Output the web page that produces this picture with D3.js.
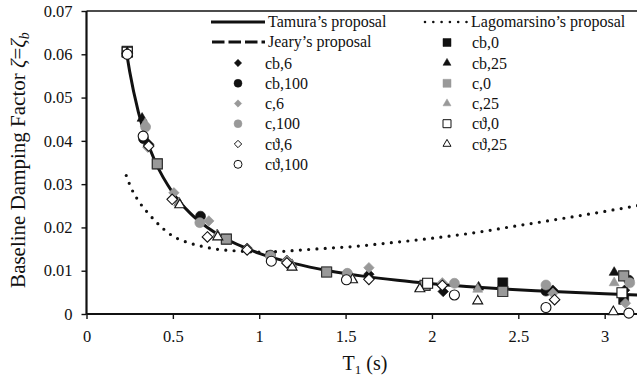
<!DOCTYPE html>
<html>
<head>
<meta charset="utf-8">
<script src="https://cdn.jsdelivr.net/npm/d3@7"></script>
<style>
  body { margin: 0; background: #fff; }
  svg { display: block; }
  text { font-family: "Liberation Serif", "Times New Roman", serif; fill: #111; }
</style>
</head>
<body>
<svg id="chart" width="637" height="380"></svg>
<script>
// ---- axis ticks ----
const xTicks = [0, 0.5, 1, 1.5, 2, 2.5, 3];
const yTicks = [0, 0.01, 0.02, 0.03, 0.04, 0.05, 0.06, 0.07];

// ---- Tamura's proposal (period T1 in s, damping) ----
const tamuraT = [0.233, 0.25, 0.30, 0.35, 0.40, 0.50, 0.60, 0.70, 0.80, 0.90, 1.00, 1.20, 1.40, 1.60, 1.80, 2.00, 2.20, 2.40, 2.60, 2.80, 3.00, 3.20];
const tamuraZ = [0.0601, 0.0560, 0.0467, 0.0400, 0.0350, 0.0280, 0.0233, 0.0200, 0.0175, 0.0156, 0.0140, 0.0117, 0.0100, 0.00875, 0.00778, 0.0070, 0.00636, 0.00583, 0.00538, 0.0050, 0.00467, 0.00438];

// ---- Lagomarsino's proposal ----
const lagoT = [0.23, 0.26, 0.30, 0.35, 0.40, 0.45, 0.50, 0.56, 0.65, 0.75, 0.88, 1.00, 1.10, 1.25, 1.40, 1.55, 1.70, 2.00, 2.30, 2.45, 2.70, 3.00, 3.20];
const lagoZ = [0.0320, 0.0290, 0.0262, 0.0236, 0.0214, 0.0195, 0.0180, 0.0169, 0.0158, 0.0150, 0.01455, 0.0143, 0.0144, 0.0148, 0.0152, 0.0156, 0.0162, 0.0175, 0.0191, 0.0201, 0.0217, 0.0237, 0.0251];

// ---- measured damping, [T1, zeta] ----
const cb0   = [[0.236, 0.0606], [0.41, 0.0347], [0.81, 0.0173], [1.39, 0.0097], [1.96, 0.0066], [2.41, 0.0072], [3.11, 0.0034]];
const cb25  = [[0.236, 0.0605], [0.322, 0.0452], [0.535, 0.0257], [0.757, 0.0183], [1.19, 0.0114], [2.27, 0.0062], [3.055, 0.0096]];
const cb6   = [[0.236, 0.0605], [0.36, 0.0392], [0.93, 0.0152], [1.16, 0.0124], [1.635, 0.0092], [2.065, 0.0052], [2.70, 0.0055], [3.115, 0.0055]];
const cb100 = [[0.236, 0.0604], [0.33, 0.0405], [0.66, 0.0226], [1.065, 0.0136], [1.51, 0.0092], [2.66, 0.0053], [3.14, 0.0078]];
const c0    = [[0.236, 0.0607], [0.41, 0.0347], [0.81, 0.0173], [1.39, 0.0097], [1.96, 0.0066], [2.41, 0.0052], [3.11, 0.0088]];
const c25   = [[0.236, 0.0604], [0.34, 0.0440], [0.535, 0.0256], [0.757, 0.0182], [1.19, 0.0113], [1.54, 0.0081], [1.93, 0.0060], [2.265, 0.0057], [3.055, 0.0072]];
const c6    = [[0.236, 0.0603], [0.355, 0.0385], [0.506, 0.0280], [0.708, 0.0215], [0.93, 0.0150], [1.16, 0.0123], [1.635, 0.0107], [2.06, 0.0072], [2.70, 0.0048], [3.12, 0.0025]];
const c100  = [[0.236, 0.0602], [0.342, 0.0432], [0.656, 0.0211], [1.065, 0.0134], [1.51, 0.0094], [2.13, 0.0071], [2.66, 0.0067], [3.145, 0.0072]];
const ct0   = [[0.236, 0.0605], [1.975, 0.0071], [3.10, 0.0049]];
const ct25  = [[0.236, 0.0603], [0.54, 0.0252], [0.76, 0.0178], [1.19, 0.0108], [1.54, 0.0079], [1.93, 0.0058], [2.265, 0.0030], [3.05, 0.0005]];
const ct6   = [[0.236, 0.0601], [0.36, 0.0388], [0.496, 0.0265], [0.70, 0.0178], [0.93, 0.0148], [1.16, 0.0118], [1.635, 0.0080], [2.06, 0.0066], [2.71, 0.0033]];
const ct100 = [[0.236, 0.0600], [0.328, 0.0411], [1.07, 0.0122], [1.505, 0.0079], [2.13, 0.0044], [2.66, 0.0015], [3.14, 0.0002]];

const seriesNames = ["cb,0", "cb,25", "cb,6", "cb,100", "c,0", "c,25", "c,6", "c,100", "c\u03D1,0", "c\u03D1,25", "c\u03D1,6", "c\u03D1,100"];
const seriesData  = [cb0, cb25, cb6, cb100, c0, c25, c6, c100, ct0, ct25, ct6, ct100];

// ---- styling ----
const BLACK = "#111", GREY = "#999";
const shapeOf = { "0": "square", "25": "triangle", "6": "diamond", "100": "circle" };
function styleOf(name) {
  const [grp, lvl] = name.split(",");
  const shape = shapeOf[lvl];
  if (grp === "cb") return { shape, fill: BLACK, stroke: BLACK, sw: 0.6 };
  if (grp === "c") return { shape, fill: GREY, stroke: shape === "square" ? "#333" : GREY, sw: shape === "square" ? 1.2 : 0.6 };
  return { shape, fill: "#fff", stroke: BLACK, sw: 1.1 };
}
function symbolPath(shape, s) {
  // s = nominal marker width in px
  if (shape === "square") return d3.symbol(d3.symbolSquare, s * s)();
  if (shape === "circle") return d3.symbol(d3.symbolCircle, Math.PI * (s / 2) * (s / 2))();
  if (shape === "triangle") return d3.symbol(d3.symbolTriangle, s * s * 0.433)();
  const h = s / 2 * 1.05; // diamond
  return `M0,${-h}L${h},0L0,${h}L${-h},0Z`;
}

// ---- layout ----
const svg = d3.select("#chart");
const x = d3.scaleLinear().domain([0, 3.19]).range([86.5, 637.5]);
const y = d3.scaleLinear().domain([0, 0.07]).range([314, 11]);

// frame top line
svg.append("line").attr("x1", x(0)).attr("x2", 637).attr("y1", y(0.07)).attr("y2", y(0.07))
  .attr("stroke", BLACK).attr("stroke-width", 1.4);

// y axis
const yAxis = svg.append("g").attr("transform", `translate(${x(0)},0)`)
  .call(d3.axisLeft(y).tickValues(yTicks).tickSize(5).tickPadding(9).tickFormat(d => d === 0 ? "0" : d3.format(".2f")(d)));
// x axis
const xAxis = svg.append("g").attr("transform", `translate(0,${y(0)})`)
  .call(d3.axisBottom(x).tickValues(xTicks).tickSize(5).tickPadding(11).tickFormat(d => String(d)));
[yAxis, xAxis].forEach(g => {
  g.select(".domain").attr("stroke", BLACK).attr("stroke-width", 2.2);
  g.selectAll(".tick line").attr("stroke", BLACK).attr("stroke-width", 1.4);
  g.selectAll(".tick text").attr("font-size", 16.5).attr("fill", "#111")
    .attr("font-family", '"Liberation Serif", "Times New Roman", serif');
});
xAxis.select(".domain").attr("d", `M${x(0)},0H637`);
yAxis.select(".domain").attr("d", `M0,${y(0)}V${y(0.07)}`);

// axis titles
const yl = svg.append("text").attr("transform", "translate(25,160) rotate(-90)")
  .attr("text-anchor", "middle").attr("font-size", 21);
yl.append("tspan").text("Baseline Damping Factor ");
yl.append("tspan").attr("font-style", "italic").text("\u03B6");
yl.append("tspan").text("=");
yl.append("tspan").attr("font-style", "italic").text("\u03B6");
yl.append("tspan").attr("font-style", "italic").attr("font-size", 14).attr("dy", 4).text("b");

const xl = svg.append("text").attr("x", 365).attr("y", 370).attr("text-anchor", "middle").attr("font-size", 20);
xl.append("tspan").text("T");
xl.append("tspan").attr("font-size", 13).attr("dy", 4).text("1");
xl.append("tspan").attr("dy", -4).text(" (s)");

// curves
const plot = svg.append("g");
const line = d3.line().x(d => x(d[0])).y(d => y(d[1])).curve(d3.curveMonotoneX);
plot.append("path").datum(lagoT.map((t, i) => [t, lagoZ[i]])).attr("d", line)
  .attr("fill", "none").attr("stroke", BLACK).attr("stroke-width", 3.2)
  .attr("stroke-linecap", "round").attr("stroke-dasharray", "0 8.3");
plot.append("path").datum(tamuraT.map((t, i) => [t, tamuraZ[i]])).attr("d", line)
  .attr("fill", "none").attr("stroke", BLACK).attr("stroke-width", 3);

// markers
seriesNames.forEach((name, i) => {
  const st = styleOf(name);
  plot.append("g").selectAll("path").data(seriesData[i]).join("path")
    .attr("transform", d => `translate(${x(d[0])},${y(d[1])})`)
    .attr("d", symbolPath(st.shape, 10))
    .attr("fill", st.fill).attr("stroke", st.stroke).attr("stroke-width", st.sw);
});

// legend
const lg = svg.append("g");
lg.append("line").attr("x1", 211).attr("x2", 265).attr("y1", 22).attr("y2", 22)
  .attr("stroke", BLACK).attr("stroke-width", 3);
lg.append("text").attr("x", 268).attr("y", 27).attr("font-size", 16).text("Tamura\u2019s proposal");
lg.append("line").attr("x1", 425).attr("x2", 467).attr("y1", 22).attr("y2", 22)
  .attr("stroke", BLACK).attr("stroke-width", 2.6).attr("stroke-linecap", "round").attr("stroke-dasharray", "0 8.3");
lg.append("text").attr("x", 471).attr("y", 27).attr("font-size", 16).text("Lagomarsino\u2019s proposal");
lg.append("line").attr("x1", 212).attr("x2", 265).attr("y1", 42).attr("y2", 42)
  .attr("stroke", BLACK).attr("stroke-width", 3).attr("stroke-dasharray", "12.5 4");
lg.append("text").attr("x", 268).attr("y", 47).attr("font-size", 16).text("Jeary\u2019s proposal");

const leftCol = ["cb,6", "cb,100", "c,6", "c,100", "c\u03D1,6", "c\u03D1,100"];
const rightCol = ["cb,0", "cb,25", "c,0", "c,25", "c\u03D1,0", "c\u03D1,25"];
const rowY = [42.5, 63, 83.3, 103.5, 123.7, 144, 164.3];
function legendItem(name, mx, tx, yy) {
  const st = styleOf(name);
  lg.append("path").attr("transform", `translate(${mx},${yy})`)
    .attr("d", symbolPath(st.shape, st.shape === "diamond" ? 7 : 8))
    .attr("fill", st.fill).attr("stroke", st.fill === "#fff" ? BLACK : st.fill).attr("stroke-width", st.fill === "#fff" ? 1 : 0.5);
  lg.append("text").attr("x", tx).attr("y", yy + 5.5).attr("font-size", 16).text(name);
}
leftCol.forEach((n, i) => legendItem(n, 238, 265, rowY[i + 1]));
rightCol.forEach((n, i) => legendItem(n, 447, 472, rowY[i]));
</script>
</body>
</html>
